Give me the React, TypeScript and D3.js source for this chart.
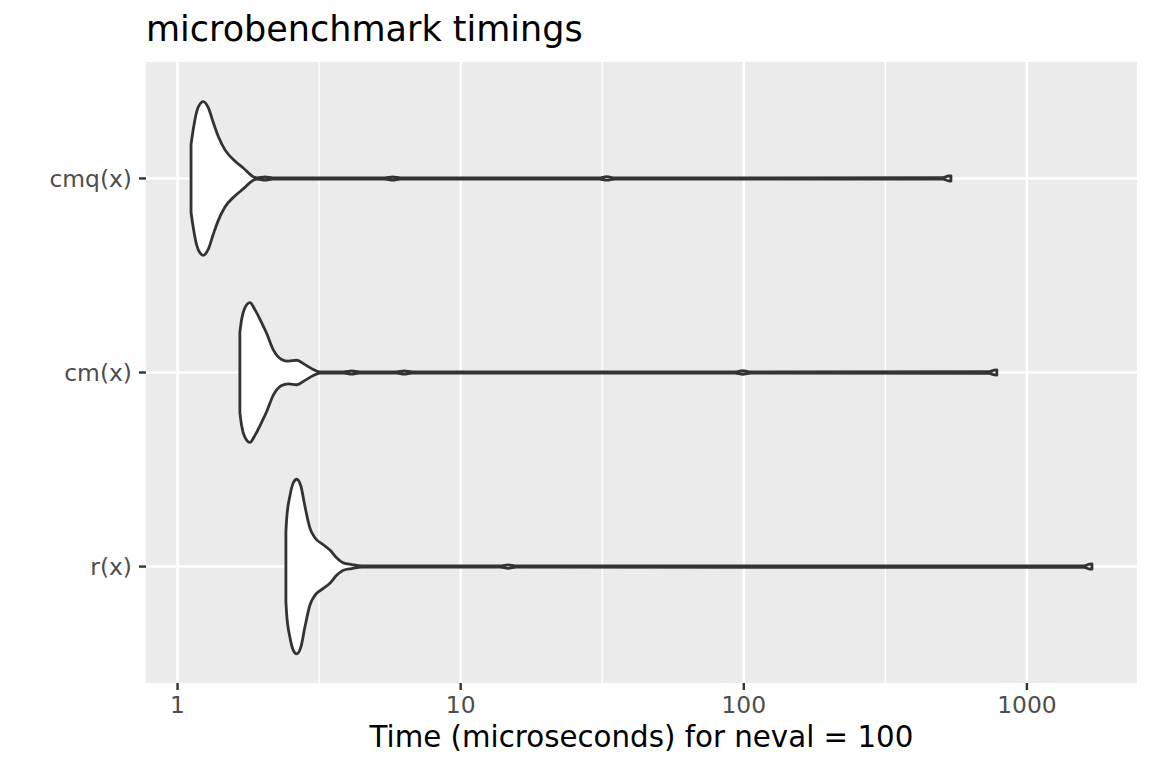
import React from 'react';
import * as d3 from 'd3';

// categories top to bottom
const categories = ['cmq(x)', 'cm(x)', 'r(x)'];

// violin outlines: time (microseconds) and relative density
const cmqTime = [1.116, 1.136, 1.158, 1.189, 1.233, 1.284, 1.337, 1.393, 1.469, 1.594, 1.707, 1.851, 1.91, 2.035, 2.17, 5.4, 5.75, 6.13, 30.8, 32.8, 35.0, 505, 528, 539];
const cmqDensity = [0.39, 0.56, 0.71, 0.83, 0.88, 0.81, 0.64, 0.48, 0.33, 0.2, 0.12, 0.02, 0.007, 0.018, 0.007, 0.007, 0.018, 0.007, 0.007, 0.02, 0.007, 0.009, 0.028, 0.03];

const cmTime = [1.66, 1.684, 1.729, 1.801, 1.876, 1.981, 2.063, 2.179, 2.331, 2.462, 2.634, 2.818, 3.017, 3.184, 3.86, 4.12, 4.4, 5.92, 6.32, 6.75, 93, 99.2, 106, 735, 768, 783];
const cmDensity = [0.46, 0.61, 0.74, 0.8, 0.72, 0.57, 0.45, 0.26, 0.15, 0.13, 0.14, 0.09, 0.035, 0.007, 0.007, 0.018, 0.007, 0.007, 0.018, 0.007, 0.007, 0.02, 0.007, 0.009, 0.028, 0.03];

const rTime = [2.414, 2.428, 2.494, 2.564, 2.634, 2.727, 2.818, 2.935, 3.056, 3.272, 3.453, 3.646, 3.85, 4.12, 4.47, 13.8, 14.7, 15.7, 1590, 1665, 1697];
const rDensity = [0.4, 0.54, 0.81, 0.96, 1.0, 0.92, 0.69, 0.44, 0.33, 0.25, 0.19, 0.1, 0.042, 0.023, 0.007, 0.007, 0.02, 0.007, 0.009, 0.028, 0.03];

const xTicks = [1, 10, 100, 1000];
const xMinorTicks = [3.162, 31.62, 316.2];

const violins = [
  { name: 'cmq(x)', time: cmqTime, density: cmqDensity },
  { name: 'cm(x)', time: cmTime, density: cmDensity },
  { name: 'r(x)', time: rTime, density: rDensity },
];

const W = 1152;
const H = 768;
const panel = { left: 146, right: 1137, top: 62, bottom: 683 };
const font = '"DejaVu Sans", Verdana, sans-serif';

export default function App() {
  const allTimes = [...cmqTime, ...cmTime, ...rTime];
  const lo = Math.log10(d3.min(allTimes) as number);
  const hi = Math.log10(d3.max(allTimes) as number);
  const pad = (hi - lo) * 0.05;

  const x = d3
    .scaleLog()
    .domain([Math.pow(10, lo - pad), Math.pow(10, hi + pad)])
    .range([panel.left, panel.right]);

  const y = d3
    .scalePoint<string>()
    .domain(categories)
    .range([panel.top, panel.bottom])
    .padding(0.6);

  const maxHalf = 0.45 * y.step();

  return (
    <svg width={W} height={H} style={{ position: 'absolute', left: 0, top: 0, background: '#fff' }}>
      <text x={panel.left} y={41} fontFamily={font} fontSize={35} fill="#000">
        microbenchmark timings
      </text>

      <rect
        x={panel.left}
        y={panel.top}
        width={panel.right - panel.left}
        height={panel.bottom - panel.top}
        fill="#EBEBEB"
      />

      {/* minor grid */}
      {xMinorTicks.map(t => (
        <line key={'mn' + t} x1={x(t)} x2={x(t)} y1={panel.top} y2={panel.bottom} stroke="#fff" strokeWidth={1.4} />
      ))}
      {/* major grid */}
      {xTicks.map(t => (
        <line key={'mj' + t} x1={x(t)} x2={x(t)} y1={panel.top} y2={panel.bottom} stroke="#fff" strokeWidth={2.6} />
      ))}
      {categories.map(c => (
        <line key={'hg' + c} x1={panel.left} x2={panel.right} y1={y(c)} y2={y(c)} stroke="#fff" strokeWidth={2.6} />
      ))}

      {/* violins */}
      {violins.map(v => {
        const cy = y(v.name) as number;
        const pts = v.time.map((t, i) => [t, v.density[i]] as [number, number]);
        const area = d3
          .area<[number, number]>()
          .x(d => x(d[0]))
          .y0(d => cy - d[1] * maxHalf)
          .y1(d => cy + d[1] * maxHalf)
          .curve(d3.curveMonotoneX);
        return (
          <path
            key={v.name}
            d={area(pts) || ''}
            fill="#fff"
            stroke="#333333"
            strokeWidth={2.8}
            strokeLinejoin="round"
          />
        );
      })}

      {/* x axis */}
      {xTicks.map(t => (
        <g key={'xt' + t}>
          <line x1={x(t)} x2={x(t)} y1={panel.bottom} y2={panel.bottom + 7} stroke="#333333" strokeWidth={2.4} />
          <text x={x(t)} y={713} textAnchor="middle" fontFamily={font} fontSize={23.4} fill="#4D4D4D">
            {t}
          </text>
        </g>
      ))}

      {/* y axis */}
      {categories.map(c => (
        <g key={'yt' + c}>
          <line x1={panel.left - 7} x2={panel.left} y1={y(c)} y2={y(c)} stroke="#333333" strokeWidth={2.4} />
          <text
            x={panel.left - 14}
            y={y(c)}
            dy="0.35em"
            textAnchor="end"
            fontFamily={font}
            fontSize={23.4}
            fill="#4D4D4D"
          >
            {c}
          </text>
        </g>
      ))}

      <text
        x={(panel.left + panel.right) / 2}
        y={747}
        textAnchor="middle"
        fontFamily={font}
        fontSize={29.3}
        fill="#000"
      >
        Time (microseconds) for neval = 100
      </text>
    </svg>
  );
}
